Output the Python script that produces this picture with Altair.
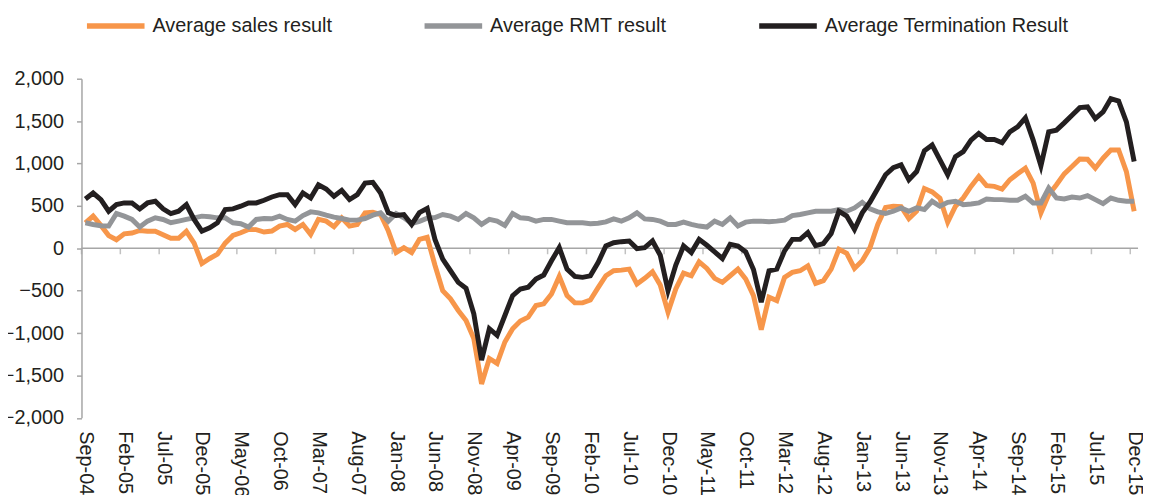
import altair as alt
import pandas as pd

series_names = ["Average sales result", "Average RMT result", "Average Termination Result"]
series_colors = ["#F7964A", "#939598", "#231F20"]

tick_labels = ["Sep-04", "Feb-05", "Jul-05", "Dec-05", "May-06", "Oct-06", "Mar-07",
               "Aug-07", "Jan-08", "Jun-08", "Nov-08", "Apr-09", "Sep-09", "Feb-10",
               "Jul-10", "Dec-10", "May-11", "Oct-11", "Mar-12", "Aug-12", "Jan-13",
               "Jun-13", "Nov-13", "Apr-14", "Sep-14", "Feb-15", "Jul-15", "Dec-15"]

# monthly values, Sep-04 .. Dec-15 (136 months)
sales = [300, 380, 270, 150, 100, 170, 180, 210, 200, 200,
         160, 117, 117, 200, 60, -180, -120, -70, 60, 152,
         183, 222, 220, 191, 203, 262, 281, 222, 281, 164,
         340, 320, 254, 359, 262, 281, 418, 425, 398, 203,
         -51, 8, -51, 105, 130, -200, -500, -597, -734, -851,
         -1066, -1600, -1300, -1358, -1105, -949, -859, -812, -676, -656,
         -539, -332, -559, -644, -644, -610, -465, -324, -265, -258,
         -246, -422, -355, -277, -433, -753, -480, -293, -324, -160,
         -238, -355, -402, -324, -246, -363, -559, -960, -577, -617,
         -343, -285, -265, -207, -414, -382, -246, -12, -59, -238,
         -148, 8, 281, 482, 496, 490, 350, 437, 705, 665,
         590, 308, 496, 593, 730, 847, 738, 730, 699, 808,
         878, 945, 769, 418, 632, 749, 878, 964, 1054, 1050,
         945, 1062, 1159, 1159, 905, 437]

rmt = [301, 281, 265, 262, 410, 379, 340, 250, 320, 359,
       340, 301, 320, 340, 359, 379, 372, 359, 359, 301,
       290, 250, 340, 351, 347, 379, 340, 320, 386, 429,
       418, 390, 367, 351, 332, 332, 351, 390, 418, 320,
       410, 359, 293, 318, 355, 363, 398, 379, 340, 410,
       359, 281, 340, 320, 269, 410, 359, 351, 320, 340,
       340, 320, 301, 301, 301, 290, 295, 312, 347, 320,
       359, 418, 347, 340, 320, 281, 281, 308, 281, 262,
       250, 320, 281, 359, 262, 308, 320, 320, 312, 320,
       332, 386, 398, 418, 437, 437, 437, 457, 437, 476,
       542, 465, 429, 410, 437, 476, 437, 476, 457, 554,
       496, 542, 554, 515, 523, 535, 582, 574, 574, 566,
       566, 613, 535, 535, 711, 593, 582, 605, 593, 621,
       574, 527, 593, 566, 554, 554]

termination = [582, 652, 574, 437, 515, 535, 535, 465, 535, 554,
               465, 410, 437, 515, 340, 203, 242, 301, 457, 465,
               496, 535, 535, 566, 605, 632, 632, 515, 652, 593,
               749, 699, 613, 683, 574, 632, 769, 777, 652, 418,
               386, 398, 281, 420, 470, 105, -129, -265, -402, -472,
               -773, -1319, -949, -1027, -793, -559, -480, -460, -363, -316,
               -148, 8, -246, -332, -343, -325, -168, 27, 66, 78,
               86, -4, 8, 86, -82, -500, -199, 27, -51, 105,
               35, -43, -121, 47, 27, -43, -250, -636, -265, -246,
               -31, 105, 105, 184, 30, 55, 175, 437, 380, 222,
               418, 545, 705, 867, 952, 984, 808, 905, 1150, 1218,
               1042, 867, 1081, 1140, 1276, 1354, 1284, 1284, 1245, 1374,
               1432, 1538, 1276, 972, 1374, 1393, 1479, 1569, 1659, 1667,
               1530, 1608, 1764, 1737, 1491, 1023]

rows = []
for name, vals in zip(series_names, [sales, rmt, termination]):
    for i, v in enumerate(vals):
        rows.append({"t": i + 0.5, "value": v, "series": name})
df = pd.DataFrame(rows)

n = len(sales)
tick_df = pd.DataFrame({"t": list(range(0, n, 5)), "z": [0] * len(range(0, n, 5))})
zero_df = pd.DataFrame({"z": [0]})

FONT = "Liberation Sans"
AXIS_GRAY = "#A6A6A6"
TEXT = "#231F20"

x_scale = alt.Scale(domain=[0, n], nice=False, zero=False)
y_scale = alt.Scale(domain=[-2000, 2000], nice=False)

label_js = "[" + ",".join("'" + s + "'" for s in tick_labels) + "]"
x_axis = alt.Axis(
    values=[i + 0.5 for i in range(0, n, 5)],
    labelExpr=label_js + "[round((datum.value - 0.5) / 5)]",
    labelAngle=90, ticks=False, tickSize=0, domain=False, labelPadding=13,
    title=None, grid=False, labelOverlap=False,
)
y_axis = alt.Axis(
    values=list(range(-2000, 2001, 500)), format=",.0f", tickSize=5, tickWidth=1.5,
    tickColor=AXIS_GRAY, domainColor=AXIS_GRAY, domainWidth=1.5, labelPadding=13,
    title=None, grid=False,
)

color = alt.Color(
    "series:N",
    scale=alt.Scale(domain=series_names, range=series_colors),
    legend=alt.Legend(
        title=None, orient="none", legendX=2.5, legendY=-85, direction="horizontal",
        symbolType="stroke", symbolSize=3364, symbolStrokeWidth=5.5,
        labelFontSize=20, labelFont=FONT, labelColor=TEXT, columnPadding=82,
        labelOffset=5, padding=0, labelLimit=0,
    ),
)

zero_rule = alt.Chart(zero_df).mark_rule(color=AXIS_GRAY, strokeWidth=1.5).encode(
    y=alt.Y("z:Q", scale=y_scale, axis=y_axis)
)
ticks = alt.Chart(tick_df).mark_tick(
    orient="vertical", size=6, thickness=1.5, yOffset=3, color=AXIS_GRAY
).encode(
    x=alt.X("t:Q", scale=x_scale, axis=x_axis),
    y=alt.Y("z:Q", scale=y_scale, axis=y_axis),
)


def series_line(name):
    return alt.Chart(df).transform_filter(alt.datum.series == name).mark_line(
        strokeWidth=5
    ).encode(
        x=alt.X("t:Q", scale=x_scale, axis=x_axis),
        y=alt.Y("value:Q", scale=y_scale, axis=y_axis),
        color=color,
    )


chart = alt.layer(
    zero_rule, ticks, *[series_line(s) for s in series_names]
).properties(
    width=1064, height=341.5,
    autosize=alt.AutoSizeParams(type="none"),
    padding={"left": 74, "top": 69.5, "right": 5, "bottom": 76},
).configure_view(stroke=None).configure_axis(
    labelFont=FONT, labelFontSize=20, labelColor=TEXT
)

chart.save("out.html", embed_options={"renderer": "svg", "actions": False})
